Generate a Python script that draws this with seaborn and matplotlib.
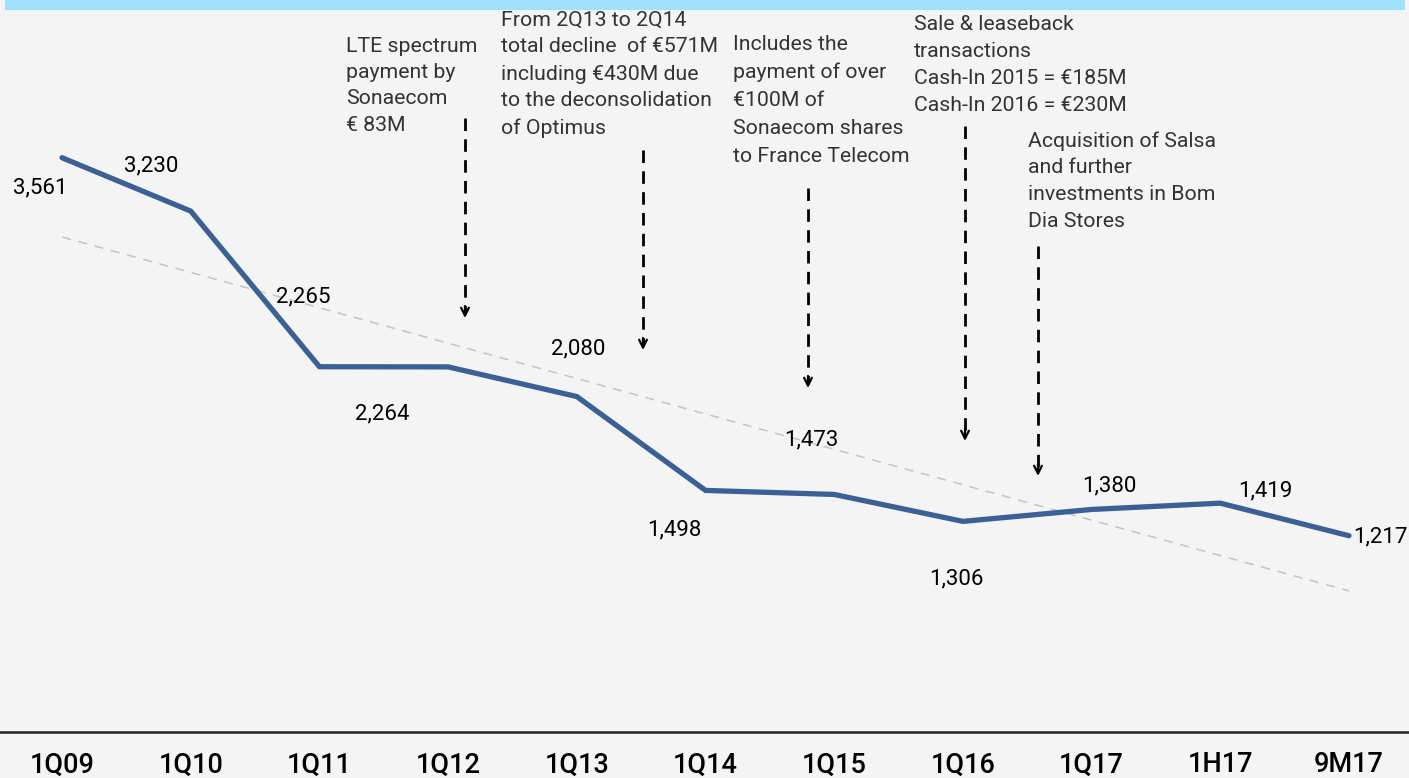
import numpy as np
import pandas as pd
import matplotlib
matplotlib.use("Agg")
import matplotlib.pyplot as plt
import seaborn as sns
from matplotlib.lines import Line2D
from matplotlib.patches import Rectangle

# --- data ---
periods = ["1Q09", "1Q10", "1Q11", "1Q12", "1Q13", "1Q14",
           "1Q15", "1Q16", "1Q17", "1H17", "9M17"]
net_debt = [3561, 3230, 2265, 2264, 2080, 1498, 1473, 1306, 1380, 1419, 1217]

notes = [
    "LTE spectrum\npayment by\nSonaecom\n€ 83M",
    "From 2Q13 to 2Q14\ntotal decline  of €571M\nincluding €430M due\nto the deconsolidation\nof Optimus",
    "Includes the\npayment of over\n€100M of\nSonaecom shares\nto France Telecom",
    "Sale & leaseback\ntransactions\nCash-In 2015 = €185M\nCash-In 2016 = €230M",
    "Acquisition of Salsa\nand further\ninvestments in Bom\nDia Stores",
]

# label offsets (pixels) relative to each point
label_offsets = [(-22, -30), (-40, 45), (-16, 70), (-66, -47), (1, 48), (-31, -40),
                 (-23, 55), (-6, -58), (18, 24), (45, 12), (31, -1)]
# note layout in pixels from top-left: text (x, top-line center y, spacing), arrow (x, y0, y1)
note_layout = [
    ((346, 46, 26.5), (465, 118, 318)),
    ((501, 20, 27.0), (643, 150, 350)),
    ((733, 44, 28.2), (808, 188, 388)),
    ((914, 25, 26.7), (965, 126, 441)),
    ((1028, 141, 26.7), (1038, 246, 476)),
]

W, H = 1409, 778
BG = "#f4f4f4"
LINE_C = "#3a6095"
TEXT_FONT = ["Roboto", "DejaVu Sans"]

sns.set_style("white")
plt.rcParams["font.family"] = TEXT_FONT

df = pd.DataFrame({"idx": np.arange(len(periods)), "period": periods, "value": net_debt})

fig = plt.figure(figsize=(W / 100, H / 100), dpi=100, facecolor=BG)
ax = fig.add_axes([0, 1 - 732 / H, 1, 722 / H])
ax.set_facecolor(BG)

# trend line (linear fit)
coef = np.polyfit(df["idx"], df["value"], 1)
df["trend"] = np.polyval(coef, df["idx"])
ax.plot(df["idx"], df["trend"], color="#c4c4c4", lw=1.1, ls=(0, (6, 5)), zorder=1)

sns.lineplot(data=df, x="idx", y="value", ax=ax, color=LINE_C, lw=3.8,
             solid_joinstyle="miter", zorder=3)

for i, (v, (dx, dy)) in enumerate(zip(net_debt, label_offsets)):
    ax.annotate(f"{v:,}", xy=(i, v), xytext=(dx, dy), textcoords="offset pixels",
                ha="center", va="center", fontsize=16, color="black")

ax.set_xlim(-0.482, 10.466)
ax.set_ylim(0, 4477)
ax.set_xticks(df["idx"])
ax.set_xticklabels(periods, fontsize=19.5, color="black", fontweight="medium")
ax.tick_params(axis="x", length=0, pad=14)
ax.set_yticks([])
ax.set_xlabel("")
ax.set_ylabel("")
for s in ["top", "left", "right"]:
    ax.spines[s].set_visible(False)
ax.spines["bottom"].set_color("#222222")
ax.spines["bottom"].set_linewidth(1.8)


def px(x, y):
    return (x / W, 1 - y / H)


# top blue band
fig.patches.append(Rectangle(px(5, 10), 1400 / W, 10 / H, transform=fig.transFigure,
                             facecolor="#9fe0fd", edgecolor="none"))

for text, ((tx, ty, sp), (ax_x, y0, y1)) in zip(notes, note_layout):
    for k, line in enumerate(text.split("\n")):
        fig.text(*px(tx, ty + k * sp), line, ha="left", va="center",
                 fontsize=15.3, color="#333333")
    xs, ys0 = px(ax_x, y0)
    _, ys1 = px(ax_x, y1 - 4)
    fig.add_artist(Line2D([xs, xs], [ys0, ys1], transform=fig.transFigure,
                          color="black", lw=2.0, ls=(0, (4.5, 3))))
    fig.add_artist(plt.Annotation("", xy=px(ax_x, y1), xytext=px(ax_x, y1 - 12),
                                  xycoords="figure fraction", textcoords="figure fraction",
                                  arrowprops=dict(arrowstyle="->", color="black", lw=1.6,
                                                  mutation_scale=14, shrinkA=0, shrinkB=0)))

fig.savefig("out.png", dpi=100, facecolor=BG)
